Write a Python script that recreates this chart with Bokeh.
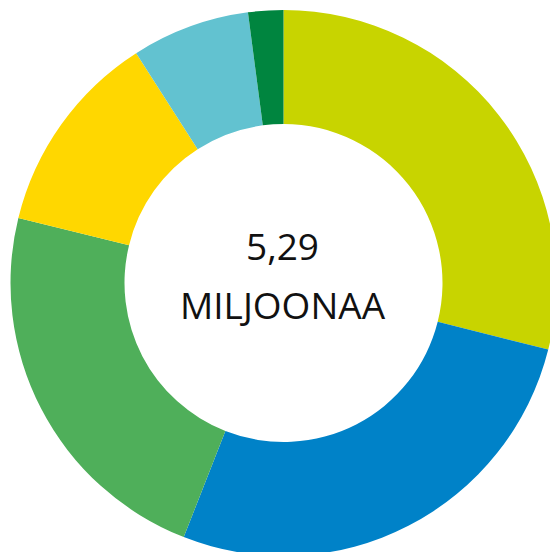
import math
from bokeh.plotting import figure
from bokeh.models import ColumnDataSource, Range1d
from bokeh.core.properties import value
from bokeh.embed import file_html
from bokeh.resources import INLINE

# Data (millions), clockwise from 12 o'clock
values = [1.53, 1.43, 1.21, 0.64, 0.37, 0.11]
colors = ["#C8D400", "#0082C8", "#4FAF5A", "#FFD700", "#62C2D0", "#00853F"]
center_lines = ["5,29", "MILJOONAA"]

W, H = 550, 552
cx, cy = 283, H - 282.5
r_out, r_in = 273, 159

total = sum(values)
starts, ends = [], []
acc = 0.0
for v in values:
    starts.append(math.pi / 2 - 2 * math.pi * acc / total)
    acc += v
    ends.append(math.pi / 2 - 2 * math.pi * acc / total)

src = ColumnDataSource(dict(x=[cx] * len(values), y=[cy] * len(values),
                            start=starts, end=ends, color=colors))

p = figure(width=W, height=H, output_backend="svg", toolbar_location=None,
           x_range=Range1d(0, W), y_range=Range1d(0, H),
           min_border=0, min_border_left=0, min_border_right=0,
           min_border_top=0, min_border_bottom=0)
p.axis.visible = False
p.grid.visible = False
p.outline_line_color = None
p.background_fill_color = "white"
p.border_fill_color = "white"

p.annular_wedge(x="x", y="y", inner_radius=r_in, outer_radius=r_out,
                start_angle="start", end_angle="end", direction="clock",
                fill_color="color", line_color=None, source=src)

p.text(x=[282, 282], y=[H - 246, H - 304], text=center_lines,
       text_font=value("Open Sans"), text_font_size="37px",
       text_color="#111111", text_align="center", text_baseline="alphabetic")

open("out.html", "w").write(file_html(p, INLINE))
